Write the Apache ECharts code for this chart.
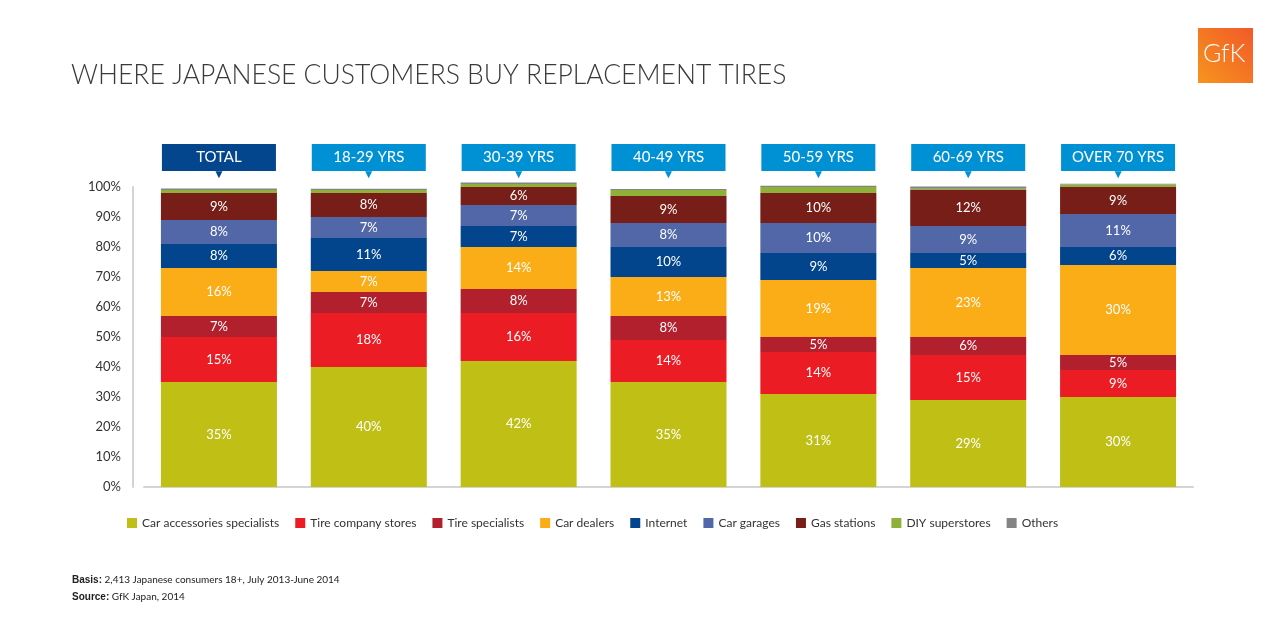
<!DOCTYPE html>
<html>
<head>
<meta charset="utf-8">
<script src="https://cdn.jsdelivr.net/npm/echarts@6/dist/echarts.min.js"></script>
<style>
  html, body { margin: 0; padding: 0; background: #fff; }
  #chart { width: 1280px; height: 640px; }
</style>
</head>
<body>
<div id="chart"></div>
<script>
const groups = ["TOTAL", "18-29 YRS", "30-39 YRS", "40-49 YRS", "50-59 YRS", "60-69 YRS", "OVER 70 YRS"];

const carAccessories = [35, 40, 42, 35, 31, 29, 30];
const tireCompany = [15, 18, 16, 14, 14, 15, 9];
const tireSpecialists = [7, 7, 8, 8, 5, 6, 5];
const carDealers = [16, 7, 14, 13, 19, 23, 30];
const internet = [8, 11, 7, 10, 9, 5, 6];
const carGarages = [8, 7, 7, 8, 10, 9, 11];
const gasStations = [9, 8, 6, 9, 10, 12, 9];
const diyStores = [1, 1, 1, 2, 2, 0.4, 0.8];
const others = [0.5, 0.4, 0.5, 0.3, 0.4, 0.8, 0.3];

const yTicks = [0, 10, 20, 30, 40, 50, 60, 70, 80, 90, 100];

const seriesDefs = [
  ["Car accessories specialists", carAccessories, "#c0bf16"],
  ["Tire company stores", tireCompany, "#ec1c24"],
  ["Tire specialists", tireSpecialists, "#b21f2d"],
  ["Car dealers", carDealers, "#fbad18"],
  ["Internet", internet, "#03458d"],
  ["Car garages", carGarages, "#5167a7"],
  ["Gas stations", gasStations, "#761e17"],
  ["DIY superstores", diyStores, "#8fb13a"],
  ["Others", others, "#848484"]
];

const chart = echarts.init(document.getElementById("chart"));

const labelFont = "Lato, 'Open Sans', sans-serif";

const series = seriesDefs.map(([name, data, color]) => ({
  name: name,
  type: "bar",
  stack: "all",
  data: data,
  barWidth: 116,
  clip: false,
  itemStyle: { color: color },
  label: {
    show: name !== "DIY superstores" && name !== "Others",
    color: "#fff",
    fontSize: 13,
    fontFamily: labelFont,
    formatter: (p) => p.value + "%"
  },
  emphasis: { disabled: true }
}));

chart.setOption({
  animation: false,
  textStyle: { fontFamily: labelFont },
  grid: { left: 144, right: 87, top: 187, bottom: 153 },
  legend: {
    left: 122,
    top: 512,
    itemWidth: 10,
    itemHeight: 10,
    itemGap: 16,
    icon: "rect",
    textStyle: { fontSize: 12, color: "#333", fontFamily: labelFont },
    data: seriesDefs.map((d) => d[0])
  },
  xAxis: [
    {
      type: "category",
      position: "top",
      data: groups,
      axisLine: { show: false },
      axisTick: { show: false },
      axisLabel: {
        margin: 10,
        interval: 0,
        formatter: (v, i) => i === 0 ? "{dbox|" + v + "}\n{dtri|▼}" : "{box|" + v + "}\n{tri|▼}",
        rich: {
          box: {
            width: 114, height: 27, lineHeight: 27, align: "center",
            backgroundColor: "#0090d4", color: "#fff", fontSize: 15, fontFamily: labelFont
          },
          dbox: {
            width: 114, height: 27, lineHeight: 27, align: "center",
            backgroundColor: "#03468d", color: "#fff", fontSize: 15, fontFamily: labelFont
          },
          tri: { color: "#0090d4", fontSize: 12, lineHeight: 6, align: "center" },
          dtri: { color: "#03468d", fontSize: 12, lineHeight: 6, align: "center" }
        }
      }
    },
    {
      type: "category",
      position: "bottom",
      data: groups,
      axisLine: { show: true, lineStyle: { color: "#d4d4d4", width: 2 } },
      axisTick: { show: false },
      axisLabel: { show: false }
    }
  ],
  yAxis: {
    type: "value",
    min: 0,
    max: 100,
    interval: 10,
    offset: 11,
    axisLine: { show: true, lineStyle: { color: "#d4d4d4", width: 2 } },
    axisTick: { show: false },
    splitLine: { show: false },
    axisLabel: {
      color: "#333",
      fontSize: 13,
      margin: 12,
      formatter: (v) => (yTicks.indexOf(v) >= 0 ? v + "%" : "")
    }
  },
  series: series,
  graphic: [
    {
      type: "text",
      left: 71,
      top: 62,
      style: {
        text: "WHERE JAPANESE CUSTOMERS BUY REPLACEMENT TIRES",
        fontSize: 26.5,
        fontWeight: 300,
        fontFamily: labelFont,
        fill: "#3a3a3a"
      }
    },
    {
      type: "rect",
      left: 1198,
      top: 28,
      shape: { width: 55, height: 55 },
      style: {
        fill: new echarts.graphic.LinearGradient(1, 0, 0, 1, [
          { offset: 0, color: "#f15a29" },
          { offset: 1, color: "#f7941d" }
        ])
      }
    },
    {
      type: "text",
      left: 1203,
      top: 41,
      style: { text: "GfK", fontSize: 25, fontWeight: 300, fill: "#fff", fontFamily: labelFont }
    },
    {
      type: "text",
      left: 72,
      top: 575,
      style: {
        text: "{b|Basis:} 2,413 Japanese consumers 18+, July 2013-June 2014",
        fontSize: 10,
        fill: "#222",
        fontFamily: labelFont,
        rich: { b: { fontWeight: "bold", fontSize: 10, fill: "#222" } }
      }
    },
    {
      type: "text",
      left: 72,
      top: 592,
      style: {
        text: "{b|Source:} GfK Japan, 2014",
        fontSize: 10,
        fill: "#222",
        fontFamily: labelFont,
        rich: { b: { fontWeight: "bold", fontSize: 10, fill: "#222" } }
      }
    }
  ]
});
</script>
</body>
</html>
